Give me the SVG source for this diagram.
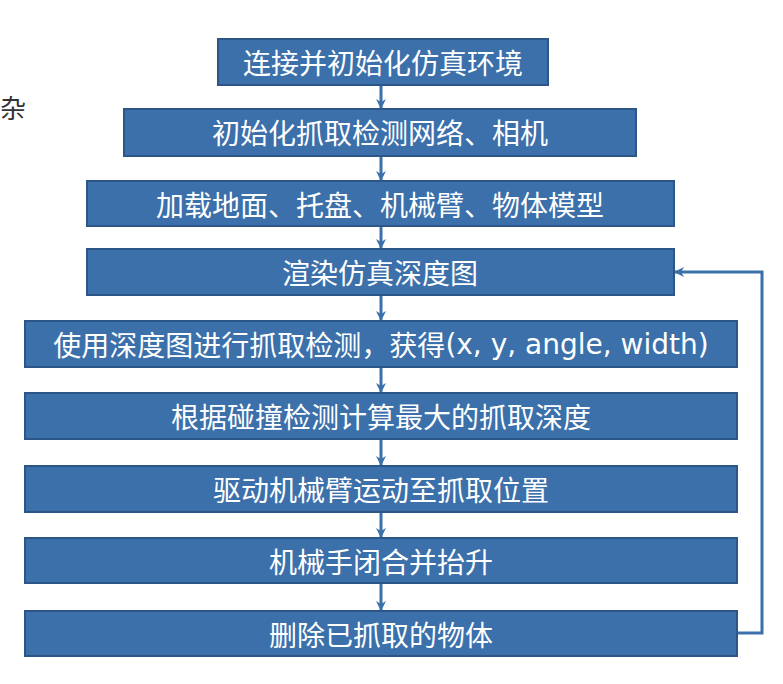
<svg xmlns="http://www.w3.org/2000/svg" width="783" height="684" viewBox="0 0 783 684">
<style>
.box{fill:#3b70aa;stroke:#2b5687;stroke-width:2}
.t{fill:#ffffff;font-family:"Noto Sans CJK SC","Noto Sans",sans-serif;font-size:28px;text-anchor:middle;dominant-baseline:central}
.lat{font-family:"DejaVu Sans","Noto Sans CJK SC",sans-serif;font-size:28px}
.c{stroke:#3b70aa;stroke-width:3;fill:none}
</style>
<defs>
<marker id="ah" markerWidth="10" markerHeight="10" refX="9" refY="5" orient="auto" markerUnits="userSpaceOnUse">
<path d="M0,0 L10,5 L0,10 L3,5 Z" fill="#3b70aa"/>
</marker>
</defs>
<rect width="783" height="684" fill="#ffffff"/>
<text x="0" y="106" font-family="Noto Sans CJK SC,sans-serif" font-size="26" fill="#333333" dominant-baseline="central">杂</text>
<g id="connectors">
<line class="c" x1="381" y1="85" x2="381" y2="108" marker-end="url(#ah)"/>
<line class="c" x1="381" y1="156" x2="381" y2="180" marker-end="url(#ah)"/>
<line class="c" x1="381" y1="226" x2="381" y2="248" marker-end="url(#ah)"/>
<line class="c" x1="381" y1="295" x2="381" y2="320" marker-end="url(#ah)"/>
<line class="c" x1="381" y1="367" x2="381" y2="392" marker-end="url(#ah)"/>
<line class="c" x1="381" y1="439" x2="381" y2="465" marker-end="url(#ah)"/>
<line class="c" x1="381" y1="512" x2="381" y2="537" marker-end="url(#ah)"/>
<line class="c" x1="381" y1="583" x2="381" y2="610" marker-end="url(#ah)"/>
<polyline class="c" points="737,633 762,633 762,272 675,272" marker-end="url(#ah)"/>
</g>
<g id="n1"><rect class="box" x="218" y="39" width="330" height="46"/><text class="t" x="383" y="62">连接并初始化仿真环境</text></g>
<g id="n2"><rect class="box" x="124" y="109" width="512" height="47"/><text class="t" x="380" y="132">初始化抓取检测网络、相机</text></g>
<g id="n3"><rect class="box" x="87" y="181" width="587" height="45"/><text class="t" x="380" y="204">加载地面、托盘、机械臂、物体模型</text></g>
<g id="n4"><rect class="box" x="87" y="249" width="587" height="46"/><text class="t" x="380" y="272">渲染仿真深度图</text></g>
<g id="n5"><rect class="box" x="25" y="321" width="712" height="46"/><text class="t" x="381" y="344">使用深度图进行抓取检测，获得<tspan class="lat">(x, y, angle, width)</tspan></text></g>
<g id="n6"><rect class="box" x="25" y="393" width="712" height="46"/><text class="t" x="381" y="416">根据碰撞检测计算最大的抓取深度</text></g>
<g id="n7"><rect class="box" x="25" y="466" width="712" height="46"/><text class="t" x="381" y="489">驱动机械臂运动至抓取位置</text></g>
<g id="n8"><rect class="box" x="25" y="538" width="712" height="45"/><text class="t" x="381" y="561">机械手闭合并抬升</text></g>
<g id="n9"><rect class="box" x="25" y="611" width="712" height="45"/><text class="t" x="381" y="634">删除已抓取的物体</text></g>
</svg>
